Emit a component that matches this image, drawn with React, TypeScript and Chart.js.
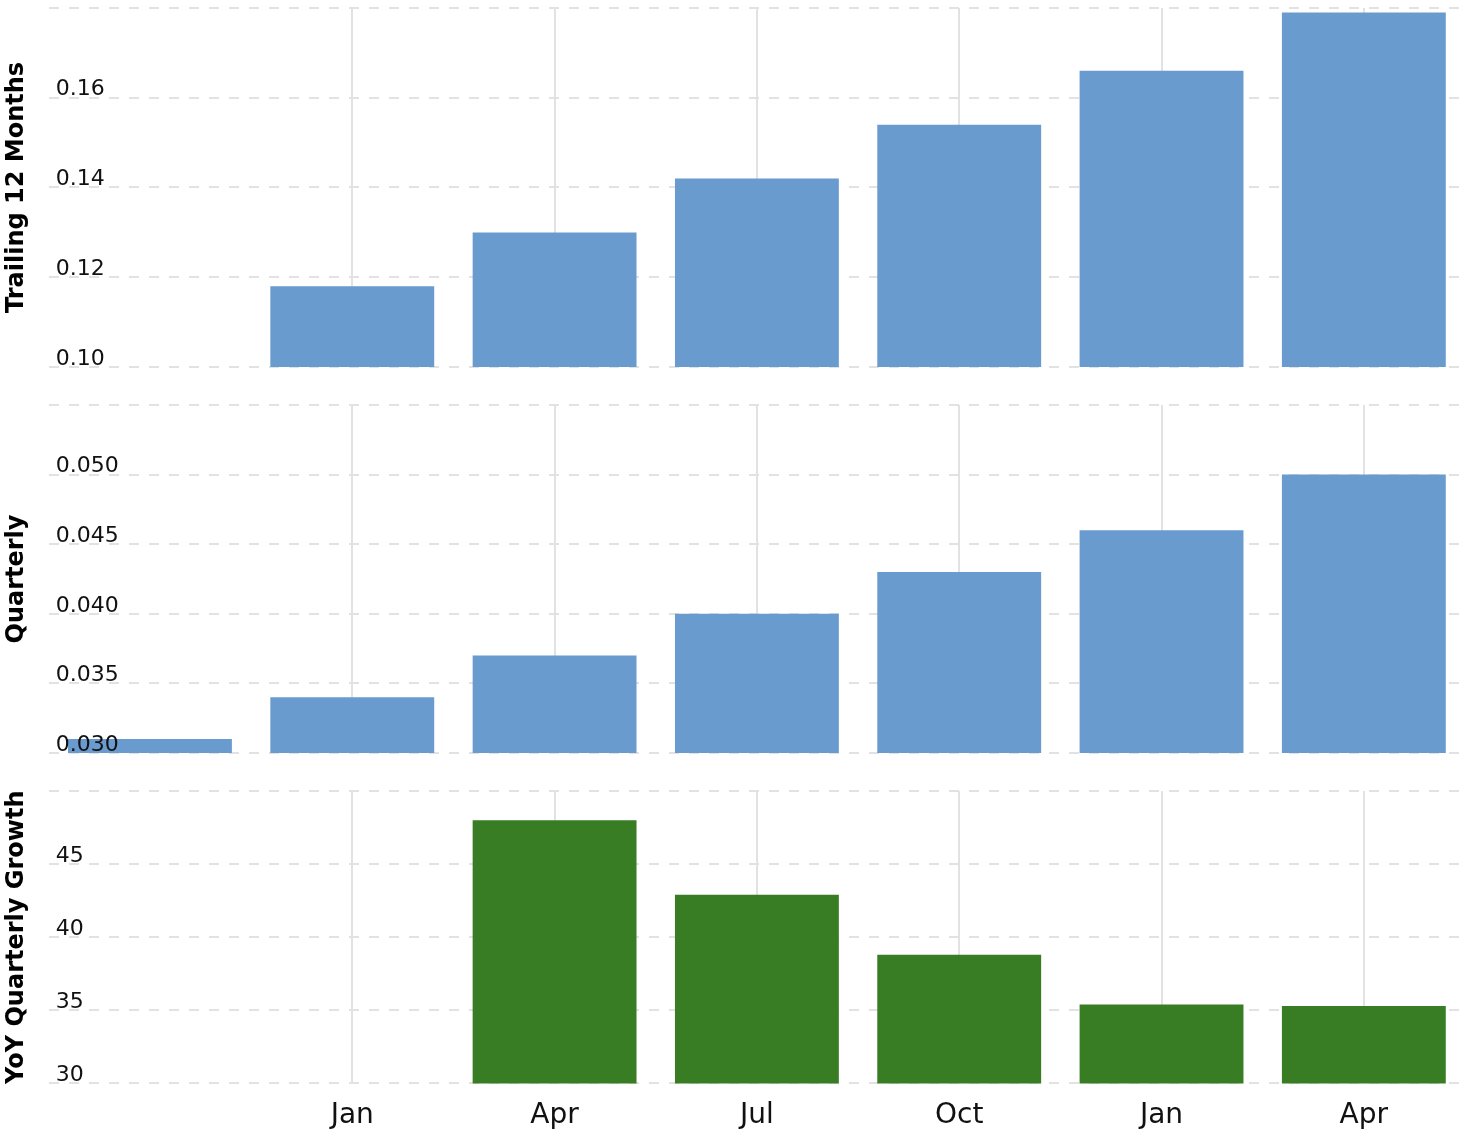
import React, { useEffect, useRef } from "react";
import { Chart, registerables } from "chart.js";

Chart.register(...registerables);

// ---- data ----
const categories = ["", "Jan", "Apr", "Jul", "Oct", "Jan", "Apr"];
const trailing12Months: (number | null)[] = [null, 0.118, 0.13, 0.142, 0.154, 0.166, 0.179];
const quarterly: (number | null)[] = [0.031, 0.034, 0.037, 0.04, 0.043, 0.046, 0.05];
const yoyQuarterlyGrowth: (number | null)[] = [null, null, 48.0, 42.9, 38.8, 35.4, 35.3];

// tick ranges [min, max, step]
const trailingRange = [0.1, 0.18, 0.02];
const quarterlyRange = [0.03, 0.055, 0.005];
const yoyRange = [30, 50, 5];

const FONT = "'DejaVu Sans', Verdana, sans-serif";
const GRID = "#e2e2e2";

type PanelProps = {
  top: number;
  height: number;
  padTop: number;
  padBottom: number;
  title: string;
  data: (number | null)[];
  color: string;
  range: number[];
  decimals: number;
  showX: boolean;
};

function Panel(p: PanelProps) {
  const ref = useRef<HTMLCanvasElement>(null);
  useEffect(() => {
    const [min, max, step] = p.range;
    const chart = new Chart(ref.current!, {
      type: "bar",
      data: {
        labels: categories,
        datasets: [
          {
            data: p.data as any,
            backgroundColor: p.color,
            borderWidth: 0,
            barPercentage: 0.81,
            categoryPercentage: 1,
          },
        ],
      },
      options: {
        animation: false,
        responsive: false,
        maintainAspectRatio: false,
        layout: { padding: { left: 0, right: 5, top: p.padTop, bottom: p.padBottom } },
        plugins: { legend: { display: false }, tooltip: { enabled: false } },
        scales: {
          x: {
            offset: true,
            grid: {
              offset: false,
              drawTicks: false,
              lineWidth: 2,
              color: (ctx: any) => (ctx.index === 0 ? "rgba(0,0,0,0)" : GRID),
            },
            border: { display: false },
            ticks: {
              display: p.showX,
              padding: 16,
              color: "#111",
              font: { family: FONT, size: 28 },
            },
          },
          y: {
            min,
            max,
            ticks: {
              stepSize: step,
              mirror: true,
              padding: 7,
              labelOffset: -8,
              z: 1,
              color: "#111",
              font: { family: FONT, size: 22 },
              callback: (v: any) => (Number(v) >= max - 1e-9 ? "" : Number(v).toFixed(p.decimals)),
            },
            grid: { drawTicks: false, lineWidth: 2, color: GRID },
            border: { display: false, dash: [10, 10] },
            title: {
              display: true,
              text: p.title,
              color: "#000",
              font: { family: FONT, size: 24, weight: "bold" },
              padding: { top: 2, bottom: 4 },
            },
          },
        },
      } as any,
    });
    return () => chart.destroy();
  }, []);
  return (
    <canvas
      ref={ref}
      width={1470}
      height={p.height}
      style={{ position: "absolute", left: 0, top: p.top, width: 1470, height: p.height }}
    />
  );
}

export default function App() {
  return (
    <div
      style={{
        position: "fixed",
        left: 0,
        top: 0,
        width: 1470,
        height: 1132,
        overflow: "hidden",
        background: "#fff",
      }}
    >
      <Panel
        top={-22}
        height={419}
        padTop={30}
        padBottom={30}
        title="Trailing 12 Months"
        data={trailing12Months}
        color="#6a9bcf"
        range={trailingRange}
        decimals={2}
        showX={false}
      />
      <Panel
        top={375}
        height={408}
        padTop={30}
        padBottom={30}
        title="Quarterly"
        data={quarterly}
        color="#6a9bcf"
        range={quarterlyRange}
        decimals={3}
        showX={false}
      />
      <Panel
        top={761}
        height={397}
        padTop={30}
        padBottom={9}
        title="YoY Quarterly Growth"
        data={yoyQuarterlyGrowth}
        color="#387d23"
        range={yoyRange}
        decimals={0}
        showX={true}
      />
    </div>
  );
}
